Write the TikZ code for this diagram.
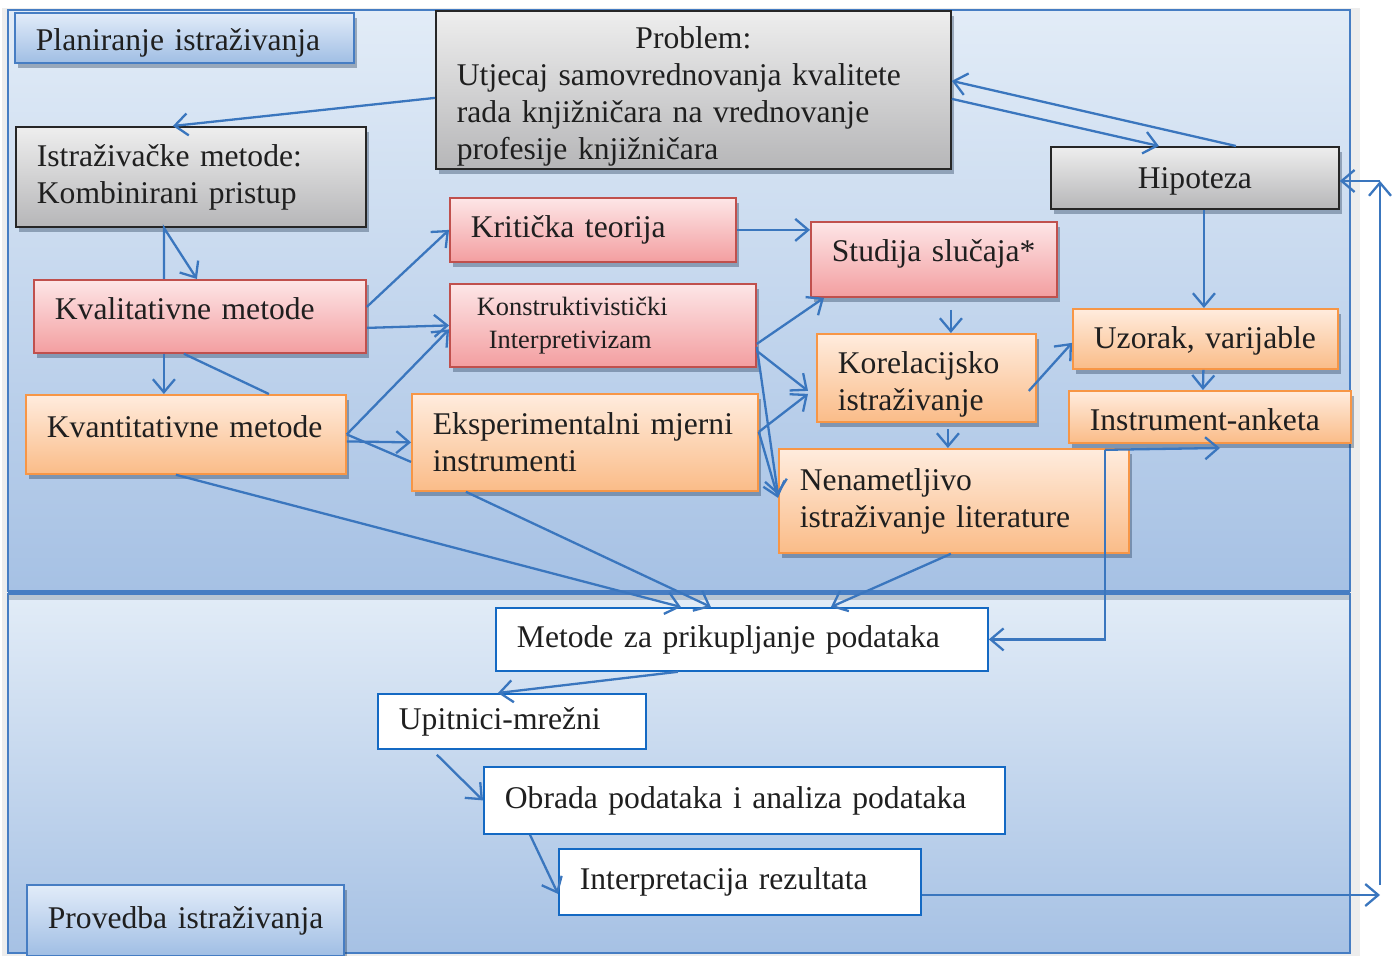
\documentclass[tikz,border=0pt]{standalone}
\usepackage{fontspec}
\setmainfont{Liberation Serif}
\usepackage{tikz}
\usetikzlibrary{positioning, arrows.meta, calc, shadows}
\definecolor{PIblue}{RGB}{58, 118, 190}
\definecolor{PIframe}{RGB}{70, 125, 195}
\definecolor{PIbgtop}{RGB}{226, 236, 247}
\definecolor{PIbgbot}{RGB}{166, 193, 228}
\definecolor{PIredtop}{RGB}{253, 230, 231}
\definecolor{PIredbot}{RGB}{243, 158, 160}
\definecolor{PIredline}{RGB}{192, 80, 77}
\definecolor{PIorgtop}{RGB}{255, 236, 222}
\definecolor{PIorgbot}{RGB}{250, 188, 136}
\definecolor{PIorgline}{RGB}{247, 150, 70}
\definecolor{PIgraytop}{RGB}{238, 238, 238}
\definecolor{PIgraybot}{RGB}{182, 182, 184}
\definecolor{PIlbltop}{RGB}{226, 236, 249}
\definecolor{PIlblbot}{RGB}{160, 190, 228}
\definecolor{PIwline}{RGB}{20, 105, 195}
\tikzset{
  comp/.style={rectangle, anchor=north west, align=left, inner xsep=10.5pt, inner ysep=2pt,
    font=\fontsize{15.8}{18.5}\selectfont, text=black!88, line width=0.9pt},
  shd/.style={drop shadow={shadow xshift=1.5pt, shadow yshift=-2.5pt, opacity=0.35, fill=PIblue!40!black}},
  gbox/.style={comp, shd, draw=black!85, top color=PIgraytop, bottom color=PIgraybot},
  rbox/.style={comp, shd, draw=PIredline, top color=PIredtop, bottom color=PIredbot},
  obox/.style={comp, shd, draw=PIorgline, top color=PIorgtop, bottom color=PIorgbot},
  wbox/.style={comp, draw=PIwline, fill=white},
  lbl/.style={comp, shd, draw=PIframe, top color=PIlbltop, bottom color=PIlblbot},
  flow/.style={-{Straight Barb[length=6.5pt, width=11pt]}, line width=1.15pt, PIblue},
  link/.style={line width=1.15pt, PIblue},
}

\begin{document}
\begin{tikzpicture}[x=0.5pt, y=-0.5pt]
    \useasboundingbox (0,0) rectangle (1400,956);
    \fill[black!7] (2,8) rectangle (1360,956);
    \shadedraw[top color=PIbgtop, bottom color=PIbgbot, draw=PIframe, line width=0.9pt] (8,10) rectangle (1350,591);
    \shadedraw[top color=PIbgtop, bottom color=PIbgbot, draw=PIframe, line width=0.9pt] (8,594) rectangle (1350,953);
    \fill[PIblue!30!gray, opacity=0.35] (8,594) rectangle (1350,600);
    \draw[PIframe, line width=1.5pt] (8,593) -- (1350,593);

    \node[lbl, text width=148.5pt, minimum height=25pt, text height=16pt] (plan) at (14,12) {\mbox{Planiranje istraživanja}};
    \node[gbox, text width=236.5pt, minimum height=79pt, inner ysep=0pt, text height=17.9pt] (problem) at (435,10) {\makebox[\hsize]{Problem:}\\Utjecaj samovrednovanja kvalitete\\rada knjižničara na vrednovanje\\profesije knjižničara};
    \node[gbox, text width=154pt, minimum height=50pt] (metode) at (15,126) {Istraživačke metode:\\Kombinirani pristup};
    \node[rbox, text width=145pt, minimum height=36.5pt, text depth=8pt] (kval) at (33,279) {Kvalitativne metode};
    \node[obox, text width=139pt, minimum height=39.5pt, text depth=8pt] (kvant) at (25,394) {Kvantitativne metode};
    \node[rbox, text width=122pt, minimum height=32pt] (krit) at (449,197) {Kritička teorija};
    \node[rbox, text width=132pt, minimum height=41.5pt, font=\fontsize{13.2}{16.5}\selectfont] (konst) at (449,283) {\hspace*{3pt}Konstruktivistički\\\hspace*{9pt}Interpretivizam};
    \node[obox, text width=152pt, minimum height=48.5pt] (eksp) at (411,393) {Eksperimentalni mjerni\\instrumenti};
    \node[rbox, text width=102pt, minimum height=37.5pt, text depth=8.4pt] (studija) at (810,221) {\mbox{Studija slučaja*}};
    \node[obox, text width=88.5pt, minimum height=44pt, text height=17pt] (korel) at (816,333) {Korelacijsko\\istraživanje};
    \node[obox, text width=154pt, minimum height=52pt] (nenam) at (778,448) {Nenametljivo\\istraživanje literature};
    \node[gbox, text width=123pt, minimum height=31pt, align=center, text height=14pt] (hipo) at (1050,146) {Hipoteza};
    \node[obox, text width=111.5pt, minimum height=30pt, text height=13pt] (uzorak) at (1072,308) {\mbox{Uzorak, varijable}};
    \node[obox, text width=120pt, minimum height=26pt, text height=14pt] (instr) at (1068,390) {\mbox{Instrument-anketa}};
    \node[wbox, text width=225pt, minimum height=31.5pt] (metprik) at (495,607) {Metode za prikupljanje podataka};
    \node[wbox, text width=113pt, minimum height=27.5pt] (upit) at (377,693) {Upitnici-mrežni};
    \node[wbox, text width=239.5pt, minimum height=33.5pt] (obrada) at (483,766) {Obrada podataka i analiza podataka};
    \node[wbox, text width=160pt, minimum height=33pt] (interp) at (558,848) {Interpretacija rezultata};
    \node[lbl, text width=137.5pt, minimum height=35.5pt] (provedba) at (26,884) {\mbox{Provedba istraživanja}};

    \coordinate (instrR) at (1220,448);
    \coordinate (fbLow) at (1380,895);
    \coordinate (fbBot) at (1380,885);
    \coordinate (fbTop) at (1380,181);

    \draw[flow] ([yshift=-4pt]problem.west) -- ([xshift=-9pt]metode.north);
    \draw[flow] ([yshift=-4.5pt]problem.east) -- ([xshift=-18pt]hipo.north);
    \draw[flow] ([xshift=20.5pt]hipo.north) -- ([yshift=4.5pt]problem.east);
    \draw[flow] ([xshift=-18pt]kval.north) -- ([xshift=-13.5pt]metode.south) -- ([xshift=-1.5pt]kval.north);
    \draw[flow] ([xshift=-18pt]kval.south) -- ([xshift=-11pt]kvant.north);
    \draw[link] ([xshift=-8pt]kval.south) -- ([xshift=41.5pt]kvant.north);
    \draw[flow] ([yshift=4.75pt]kval.east) -- (krit.west);
    \draw[flow] ([yshift=-5.75pt]kval.east) -- (konst.west);
    \draw[flow] (kvant.east) -- ([yshift=-2pt]konst.west);
    \draw[flow] ([yshift=-3.5pt]kvant.east) -- (eksp.west);
    \draw[link] (kvant.east) -- ([yshift=-9.75pt]eksp.west);
    \draw[flow] ([xshift=-5pt]kvant.south) -- ([xshift=-30.5pt]metprik.north);
    \draw[flow] ([xshift=-59.5pt]eksp.south) -- ([xshift=-15.5pt]metprik.north);
    \draw[flow] ([xshift=-1.5pt]nenam.south) -- ([xshift=44.5pt]metprik.north);
    \draw[flow] (krit.east) -- (krit.east -| studija.west);
    \draw[flow] ([yshift=-9.25pt]konst.east) -- ([xshift=7pt]studija.south west);
    \draw[flow] ([yshift=-12.75pt]konst.east) -- ([xshift=-4pt,yshift=-6.5pt]korel.west);
    \draw[flow] ([yshift=-10.75pt]konst.east) -- ([yshift=3pt]nenam.west);
    \draw[flow] ([yshift=5.25pt]eksp.east) -- ([xshift=-4pt,yshift=-8pt]korel.west);
    \draw[flow] ([yshift=5.25pt]eksp.east) -- ([yshift=1.5pt]nenam.west);
    \draw[flow] ([xshift=8.5pt,yshift=-6pt]studija.south) -- ([xshift=12.25pt]korel.north);
    \draw[flow] ([xshift=10.75pt,yshift=-3pt]korel.south) -- ([xshift=-3pt]nenam.north);
    \draw[flow] ([xshift=-4pt,yshift=-6.5pt]korel.east) -- ([yshift=-2pt]uzorak.west);
    \draw[flow] ([xshift=4.5pt]hipo.south) -- ([xshift=-0.75pt]uzorak.north);
    \draw[flow] ([xshift=-1pt]uzorak.south) -- ([xshift=-3.5pt]instr.north);
    \draw[flow] ([xshift=-52.5pt,yshift=-3pt]instr.south) coordinate (knee) -- (instrR);
    \draw[flow] (knee) |- (metprik.east);
    \draw[flow] ([xshift=-32pt]metprik.south) -- ([xshift=-7pt]upit.north);
    \draw[flow] ([xshift=-37.5pt,yshift=-2.5pt]upit.south) -- (obrada.west);
    \draw[flow] ([xshift=23.5pt]obrada.south west) -- ([yshift=-6pt]interp.west);
    \draw[flow] (interp.east |- fbLow) -- (fbLow);
    \draw[flow] (fbBot) -- (fbTop);
    \draw[flow] (fbTop) -- (fbTop -| hipo.east);
\end{tikzpicture}
\end{document}
